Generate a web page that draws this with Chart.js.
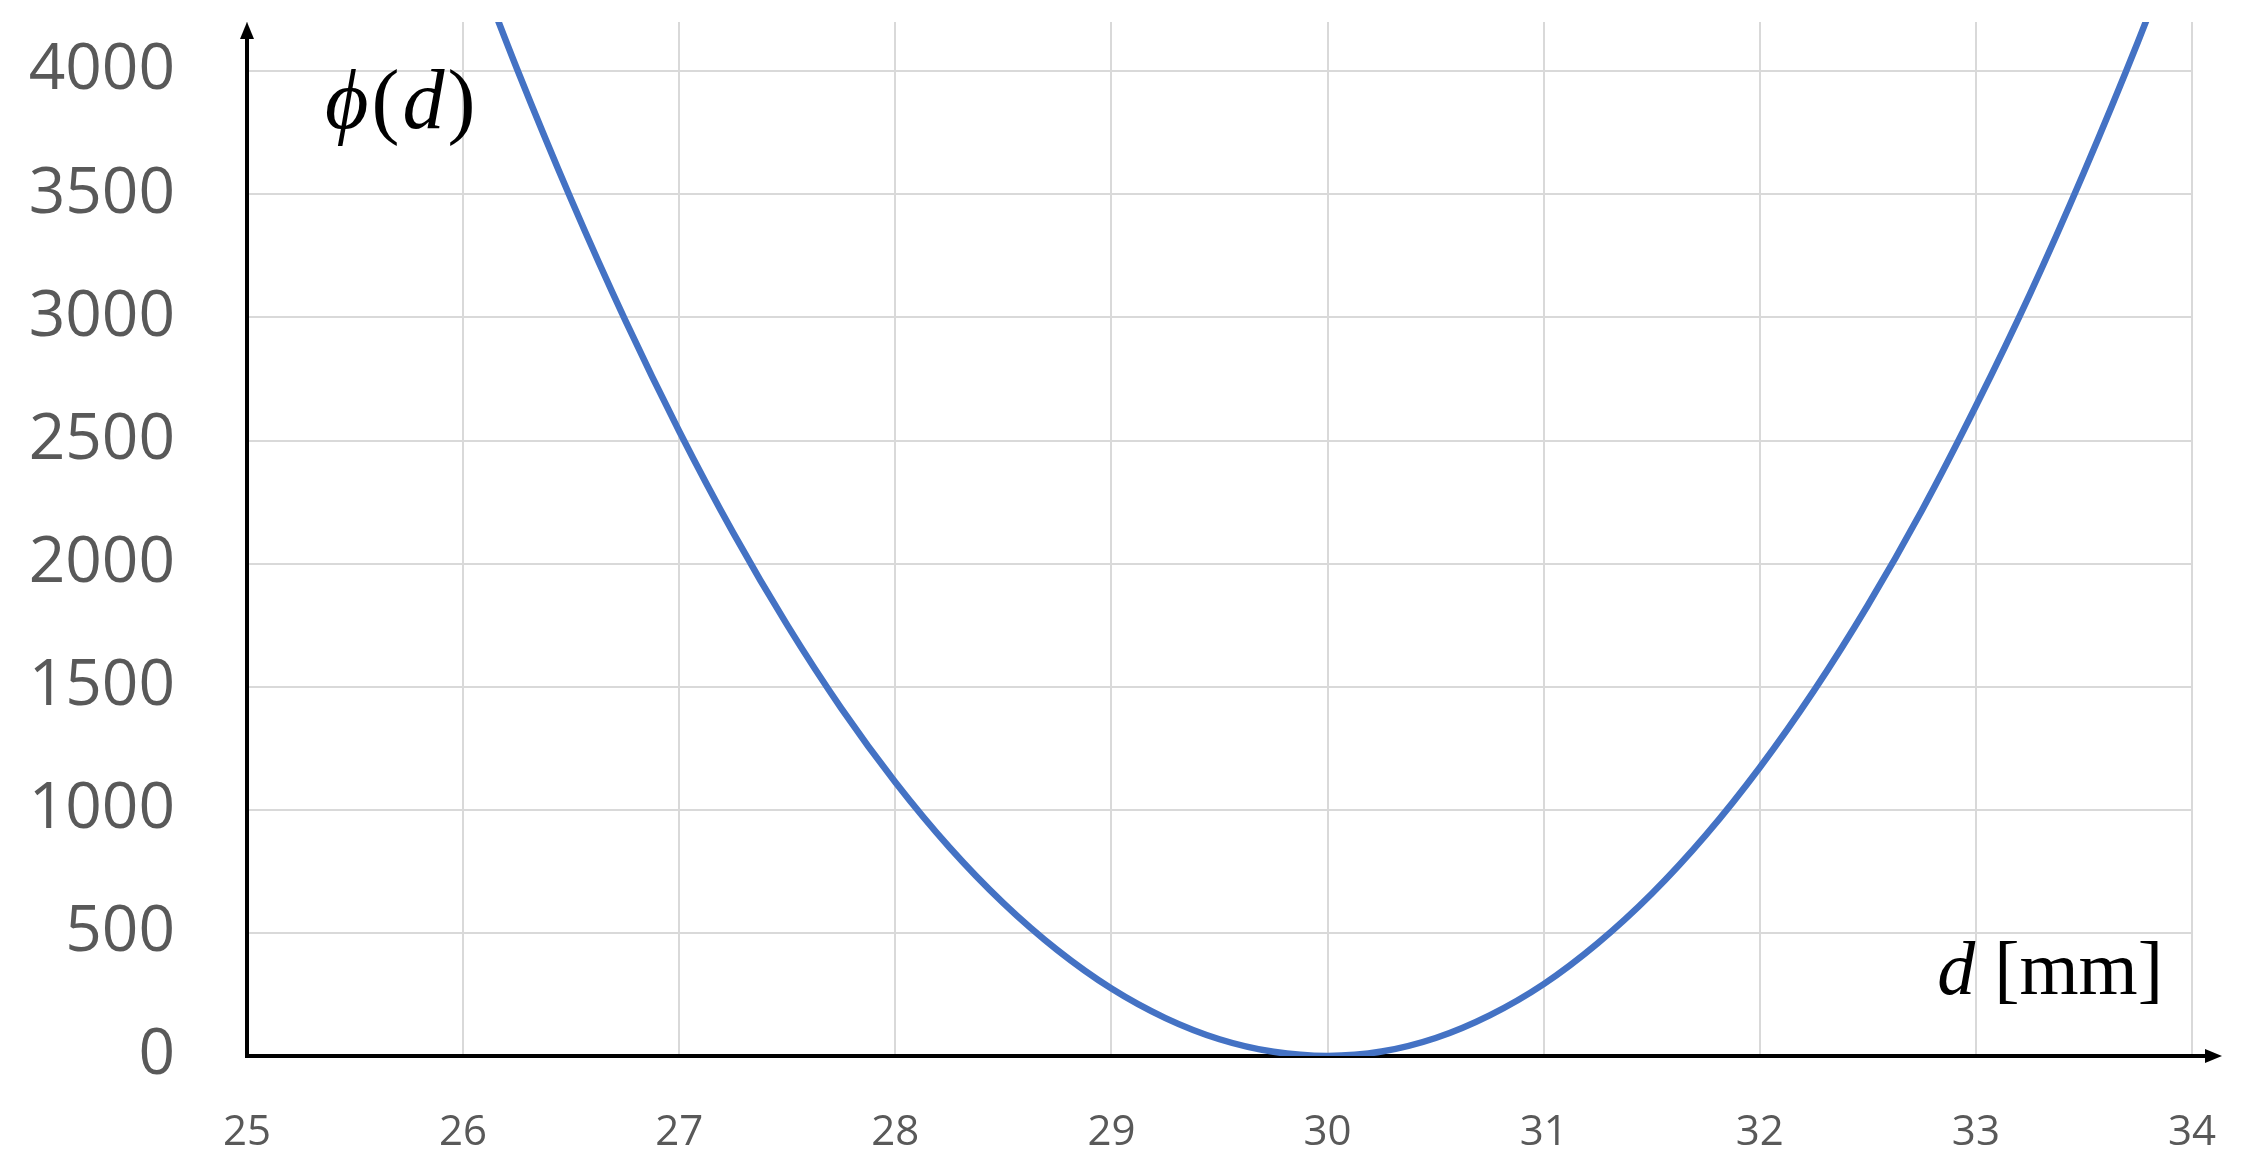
<!DOCTYPE html>
<html>
<head>
<meta charset="utf-8">
<script src="https://cdn.jsdelivr.net/npm/chart.js@4.4.0/dist/chart.umd.min.js"></script>
<style>
  html, body { margin: 0; padding: 0; background: #fff; }
  canvas { display: block; }
</style>
</head>
<body>
<canvas id="chart" width="2266" height="1175"></canvas>
<script>
// d [mm] and phi(d)
const dValues = [26, 26.25, 26.5, 26.75, 27, 27.25, 27.5, 27.75, 28, 28.25, 28.5, 28.75, 29, 29.25, 29.5, 29.75,
  30, 30.25, 30.5, 30.75, 31, 31.25, 31.5, 31.75, 32, 32.25, 32.5, 32.75, 33, 33.25, 33.5, 33.75, 34];
const phiValues = [4576, 4008, 3479, 2989, 2538, 2125, 1750, 1412, 1112, 848, 621, 430, 274, 154, 68, 17,
  0, 18, 73, 165, 292, 458, 659, 897, 1172, 1483, 1831, 2216, 2640, 3095, 3590, 4120, 4690];

const xTickValues = [25, 26, 27, 28, 29, 30, 31, 32, 33, 34];
const yTickValues = [0, 500, 1000, 1500, 2000, 2500, 3000, 3500, 4000];

const points = dValues.map((d, i) => ({ x: d, y: phiValues[i] }));

// zwarte assen met pijlpunten
const axisLines = {
  id: 'axisLines',
  beforeDatasetsDraw(chart) {
    const ctx = chart.ctx;
    const a = chart.chartArea;
    const x0 = chart.scales.x.getPixelForValue(25);
    const y0 = chart.scales.y.getPixelForValue(0);
    ctx.save();
    ctx.strokeStyle = '#000';
    ctx.fillStyle = '#000';
    ctx.lineWidth = 4;
    ctx.beginPath();
    ctx.moveTo(x0, y0 + 2);
    ctx.lineTo(x0, a.top + 12);
    ctx.stroke();
    ctx.beginPath();
    ctx.moveTo(x0, a.top);
    ctx.lineTo(x0 - 7, a.top + 17);
    ctx.lineTo(x0 + 7, a.top + 17);
    ctx.closePath();
    ctx.fill();

    ctx.beginPath();
    ctx.moveTo(x0 - 2, y0);
    ctx.lineTo(a.right + 16, y0);
    ctx.stroke();
    ctx.beginPath();
    ctx.moveTo(a.right + 30, y0);
    ctx.lineTo(a.right + 13, y0 - 7);
    ctx.lineTo(a.right + 13, y0 + 7);
    ctx.closePath();
    ctx.fill();
    ctx.restore();
  }
};

// tekst bij de assen
const axisTitles = {
  id: 'axisTitles',
  afterDraw(chart) {
    const ctx = chart.ctx;
    ctx.save();
    ctx.fillStyle = '#000';
    ctx.textBaseline = 'alphabetic';
    ctx.textAlign = 'left';

    const it1 = "italic 84px 'Liberation Serif'";
    const up1 = "84px 'Liberation Serif'";
    let x = 325;
    const parts = [['\u03D5', it1], ['(', up1], ['d', it1], [')', up1]];
    parts.forEach(p => {
      ctx.font = p[1];
      ctx.fillText(p[0], x, 128);
      x += ctx.measureText(p[0]).width + 3;
    });

    const it2 = "italic 76px 'Liberation Serif'";
    const up2 = "76px 'Liberation Serif'";
    ctx.font = up2;
    const rest = ' [mm]';
    const wRest = ctx.measureText(rest).width;
    ctx.font = it2;
    const wD = ctx.measureText('d').width;
    const right = 2163;
    const base = 994;
    ctx.fillText('d', right - wRest - wD, base);
    ctx.font = up2;
    ctx.fillText(rest, right - wRest, base);
    ctx.restore();
  }
};

new Chart(document.getElementById('chart'), {
  type: 'line',
  data: {
    datasets: [{
      label: 'phi(d)',
      data: points,
      borderColor: '#4472C4',
      borderWidth: 6.5,
      pointRadius: 0,
      fill: false,
      cubicInterpolationMode: 'monotone',
      clip: 0
    }]
  },
  options: {
    responsive: false,
    animation: false,
    devicePixelRatio: 1,
    layout: { padding: { left: 0, top: 22, right: 74, bottom: 0 } },
    plugins: {
      legend: { display: false },
      tooltip: { enabled: false }
    },
    scales: {
      x: {
        type: 'linear',
        min: 25,
        max: 34,
        afterBuildTicks: s => { s.ticks = xTickValues.map(v => ({ value: v })); },
        afterFit: s => { s.height = 119; s.paddingLeft = 0; s.paddingRight = 0; },
        border: { display: false },
        grid: { color: '#d9d9d9', lineWidth: 2, drawTicks: false },
        ticks: {
          color: '#595959',
          font: { family: "'Open Sans'", size: 42 },
          padding: 52,
          maxRotation: 0,
          callback: v => String(v)
        }
      },
      y: {
        type: 'linear',
        min: 0,
        max: 4200,
        afterBuildTicks: s => { s.ticks = yTickValues.map(v => ({ value: v })); },
        afterFit: s => { s.width = 247; s.paddingTop = 0; s.paddingBottom = 0; },
        border: { display: false },
        grid: { color: '#d9d9d9', lineWidth: 2, drawTicks: false },
        ticks: {
          color: '#595959',
          font: { family: "'Open Sans'", size: 64 },
          padding: 72,
          callback: v => String(v)
        }
      }
    }
  },
  plugins: [axisLines, axisTitles]
});
</script>
</body>
</html>
